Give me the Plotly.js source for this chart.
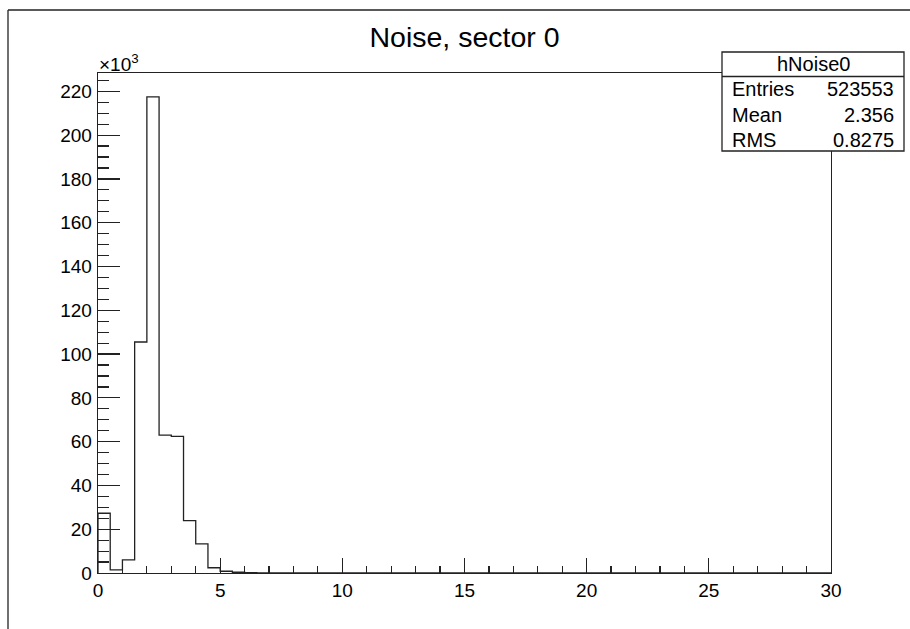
<!DOCTYPE html>
<html>
<head>
<meta charset="utf-8">
<script src="https://cdn.plot.ly/plotly-3.0.1.min.js"></script>
<style>html,body{margin:0;padding:0;background:#fff;}#chart{width:910px;height:629px;}</style>
</head>
<body>
<div id="chart"></div>
<script>
// Histogram hNoise0: 60 bins of width 0.5 from 0 to 30 (counts)
const binLow = 0;
const binWidth = 0.5;
const counts = [27300, 1400, 6000, 105500, 217500, 63000, 62400, 23900, 13300, 2400,
  800, 350, 150, 80, 50, 30, 20, 10, 10, 5,
  0, 0, 0, 0, 0, 0, 0, 0, 0, 0,
  0, 0, 0, 0, 0, 0, 0, 0, 0, 0,
  0, 0, 0, 0, 0, 0, 0, 0, 0, 0,
  0, 0, 0, 0, 0, 0, 0, 0, 0, 0];
const yTickVals = [0, 20000, 40000, 60000, 80000, 100000, 120000, 140000, 160000, 180000, 200000, 220000];
const yTickText = ["0", "20", "40", "60", "80", "100", "120", "140", "160", "180", "200", "220"];
const statsName = "hNoise0";
const statsLabels = ["Entries", "Mean", "RMS"];
const statsValues = ["523553", "2.356", "0.8275"];
const titleText = "Noise, sector 0";

// Build step outline from bin edges
const xs = [binLow];
const ys = [0];
counts.forEach((c, i) => { xs.push(binLow + i * binWidth); ys.push(c); });
xs.push(binLow + counts.length * binWidth); ys.push(counts[counts.length - 1]);
xs.push(binLow + counts.length * binWidth); ys.push(0);

const ymax = Math.max(...counts) * 1.05;

// pixel helpers for plot area (l=98, r=831, t=73, b=573)
const L = 98, R = 831, T = 73, B = 573;
const px = p => (p - L) / (R - L);
const py = p => (B - p) / (B - T);

const font = "Liberation Sans, Arial, sans-serif";

const trace = {
  x: xs, y: ys, type: 'scatter', mode: 'lines',
  line: {shape: 'hv', color: '#222', width: 1.3},
  hoverinfo: 'skip', showlegend: false
};

const shapes = [
  // outer canvas frame
  {type: 'line', xref: 'paper', yref: 'paper', x0: px(8), x1: px(912), y0: py(10), y1: py(10), line: {color: '#222', width: 1.3}},
  {type: 'line', xref: 'paper', yref: 'paper', x0: px(8), x1: px(8), y0: py(10), y1: py(632), line: {color: '#222', width: 1.3}},
  // stats box
  {type: 'rect', xref: 'paper', yref: 'paper', x0: px(722), x1: px(904), y0: py(52), y1: py(151), fillcolor: '#fff', line: {color: '#222', width: 1.3}},
  {type: 'line', xref: 'paper', yref: 'paper', x0: px(722), x1: px(904), y0: py(76.5), y1: py(76.5), line: {color: '#222', width: 1.3}}
];

const annotations = [
  {xref: 'paper', yref: 'paper', x: px(97), y: py(63), xanchor: 'left', yanchor: 'middle', showarrow: false,
   text: '×10<sup>3</sup>', font: {family: font, size: 19, color: '#000'}},
  {xref: 'paper', yref: 'paper', x: px(813), y: py(64), xanchor: 'center', yanchor: 'middle', showarrow: false,
   text: statsName, font: {family: font, size: 20, color: '#000'}}
];
const rowY = [89, 115, 140];
statsLabels.forEach((lab, i) => {
  annotations.push({xref: 'paper', yref: 'paper', x: px(730), y: py(rowY[i]), xanchor: 'left', yanchor: 'middle', showarrow: false,
    text: lab, font: {family: font, size: 20, color: '#000'}});
  annotations.push({xref: 'paper', yref: 'paper', x: px(896), y: py(rowY[i]), xanchor: 'right', yanchor: 'middle', showarrow: false,
    text: statsValues[i], font: {family: font, size: 20, color: '#000'}});
});

const layout = {
  width: 910, height: 629,
  margin: {l: L, r: 910 - R, t: T, b: 629 - B, pad: 0},
  paper_bgcolor: '#fff', plot_bgcolor: '#fff',
  title: {text: titleText, x: 0.5, xref: 'paper', xanchor: 'center', y: 1 - 37 / 629, yanchor: 'middle',
          font: {family: font, size: 28.5, color: '#000'}},
  font: {family: font, color: '#000'},
  xaxis: {
    range: [0, 30], tickmode: 'linear', tick0: 0, dtick: 5,
    ticks: 'inside', ticklen: 15, tickwidth: 1.2, tickcolor: '#222',
    minor: {dtick: 1, tick0: 0, ticks: 'inside', ticklen: 7.5, tickwidth: 1.2, tickcolor: '#222', showgrid: false},
    showline: true, mirror: true, linecolor: '#222', linewidth: 1.3,
    showgrid: false, zeroline: false,
    tickfont: {family: font, size: 19, color: '#000'}
  },
  yaxis: {
    range: [0, ymax], tickmode: 'array', tickvals: yTickVals, ticktext: yTickText,
    ticks: 'inside', ticklen: 22, tickwidth: 1.2, tickcolor: '#222',
    minor: {dtick: 5000, tick0: 0, ticks: 'inside', ticklen: 11, tickwidth: 1.2, tickcolor: '#222', showgrid: false},
    showline: true, mirror: true, linecolor: '#222', linewidth: 1.3,
    showgrid: false, zeroline: false, ticklabelstandoff: 1,
    tickfont: {family: font, size: 19, color: '#000'}
  },
  shapes: shapes,
  annotations: annotations
};

Plotly.newPlot('chart', [trace], layout, {staticPlot: true, displayModeBar: false});
</script>
</body>
</html>
